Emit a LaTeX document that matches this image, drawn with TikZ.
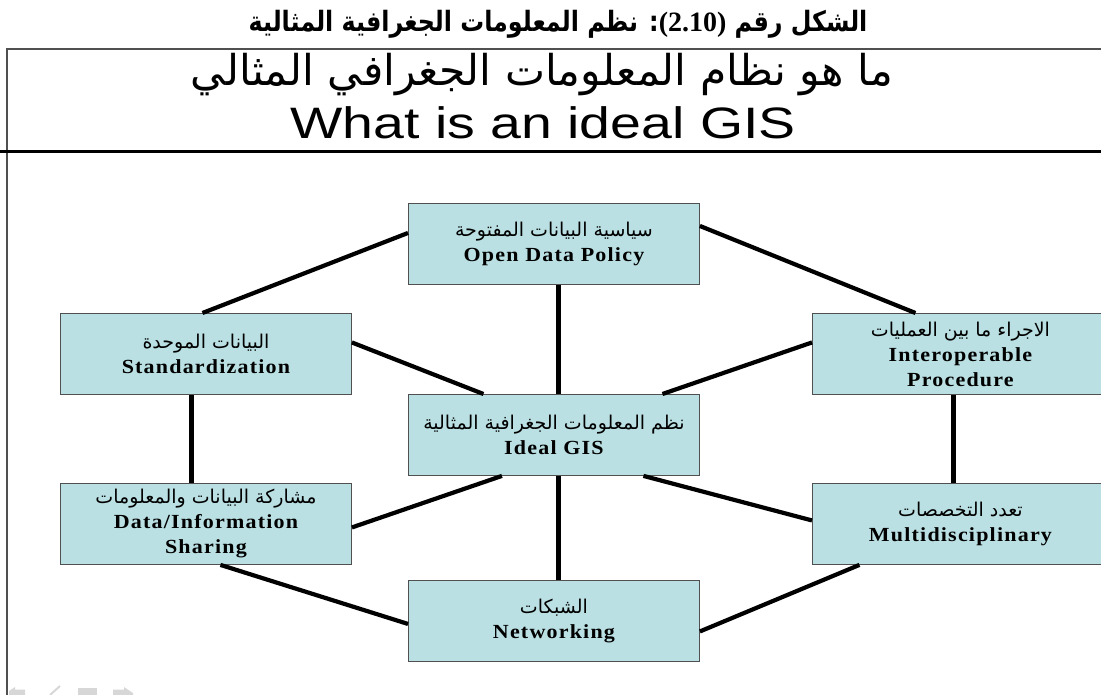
\documentclass[tikz,border=0pt]{standalone}
\usepackage{fontspec}
\usepackage{graphicx}
\usepackage{xcolor}
\usepackage{tikz}
\usetikzlibrary{positioning}

\TeXXeTstate=1
\newfontfamily\arabicfont[Script=Arabic]{DejaVu Sans}
\newfontfamily\titlefont[Script=Arabic, FakeStretch=0.85]{DejaVu Sans}
\newfontfamily\latinbold[LetterSpace=6, FakeStretch=1.1]{Liberation Serif}
\newfontfamily\numfont{Liberation Serif}
\newfontfamily\headfont[FakeStretch=1.26]{Liberation Sans}

\definecolor{boxfill}{RGB}{186,224,227}
\definecolor{boxline}{RGB}{80,80,80}
\definecolor{navgray}{RGB}{215,215,215}

\tikzset{
    gisbox/.style={draw=boxline, fill=boxfill, line width=0.9pt, anchor=north west,
        minimum width=291pt, minimum height=81pt, inner sep=0pt, align=center,
        font=\fontsize{20}{25}\selectfont},
    widebox/.style={gisbox, minimum width=296pt},
    link/.style={line width=4.2pt, black},
}

\newcommand{\ar}[1]{{\arabicfont\fontsize{19}{25}\selectfont\beginR #1\endR}}
\newcommand{\en}[1]{{\latinbold\bfseries #1}}

\begin{document}
\begin{tikzpicture}[x=1pt, y=-1pt]
    \useasboundingbox (0,0) rectangle (1101,695);
    \clip (0,0) rectangle (1101,695);

    % Caption and slide header
    \node[anchor=base] (caption) at (558,32)
        {\titlefont\bfseries\fontsize{28}{30}\selectfont\beginR الشكل رقم \beginL{\numfont\bfseries (2.10)}\endL: نظم المعلومات الجغرافية المثالية\endR};
    \draw[boxline, line width=1.2pt] (7,695) -- (7,49) -- (1101,49);
    \node[anchor=base] (headar) at (542,86)
        {\arabicfont\fontsize{42.5}{46}\selectfont\beginR ما هو نظام المعلومات الجغرافي المثالي\endR};
    \node[anchor=base] (headen) at (543,139) {\headfont\fontsize{44}{48}\selectfont What is an ideal GIS};
    \draw[line width=3pt] (0,152) -- (1101,152);

    % Boxes
    \node[gisbox] (open) at (408,203) {\ar{سياسية البيانات المفتوحة}\\ \en{Open Data Policy}};
    \node[gisbox] (std) at (60,313) {\ar{البيانات الموحدة}\\ \en{Standardization}};
    \node[gisbox] (ideal) at (408,394) {\ar{نظم المعلومات الجغرافية المثالية}\\ \en{Ideal GIS}};
    \node[gisbox] (data) at (60,483) {\ar{مشاركة البيانات والمعلومات}\\ \en{Data/Information}\\ \en{Sharing}};
    \node[gisbox] (net) at (408,580) {\ar{الشبكات}\\ \en{Networking}};
    \node[widebox] (inter) at (812,313) {\ar{الاجراء ما بين العمليات}\\ \en{Interoperable}\\ \en{Procedure}};
    \node[widebox] (multi) at (812,483) {\ar{تعدد التخصصات}\\ \en{Multidisciplinary}};

    % Links between the boxes
    \draw[link] ([yshift=11pt]open.west) -- ([xshift=-3.5pt]std.north);
    \draw[link] ([yshift=11.5pt]std.east) -- ([xshift=-70.5pt]ideal.north);
    \draw[link] ([xshift=-14.5pt]std.south) -- ([xshift=-14.5pt]data.north);
    \draw[link] ([xshift=-52pt]ideal.south) -- ([yshift=-3.5pt]data.east);
    \draw[link] ([xshift=14.5pt]data.south) -- ([yshift=-3pt]net.west);
    \draw[link] ([xshift=4.5pt]open.south) -- ([xshift=4.5pt]ideal.north);
    \draw[link] ([xshift=4.5pt]ideal.south) -- ([xshift=4.5pt]net.north);
    \draw[link] ([yshift=18pt]open.east) -- ([xshift=-45pt]inter.north);
    \draw[link] ([yshift=11.5pt]inter.west) -- ([xshift=108.5pt]ideal.north);
    \draw[link] ([xshift=89.5pt]ideal.south) -- ([yshift=3.5pt]multi.west);
    \draw[link] ([xshift=-101pt]multi.south) -- ([yshift=-10.5pt]net.east);
    \draw[link] ([xshift=-7pt]inter.south) -- ([xshift=-7pt]multi.north);

    % Faint slide navigation icons
    \fill[navgray] (9,691) -- (15,687) -- (15,689.5) -- (25,689.5) -- (25,695) -- (9,695) -- cycle;
    \draw[navgray, line width=2pt] (50,695) -- (60,686);
    \fill[navgray] (78,688) rectangle (97,695);
    \fill[navgray] (113,689.5) -- (124,689.5) -- (124,687) -- (133,693) -- (133,695) -- (113,695) -- cycle;
\end{tikzpicture}
\end{document}
